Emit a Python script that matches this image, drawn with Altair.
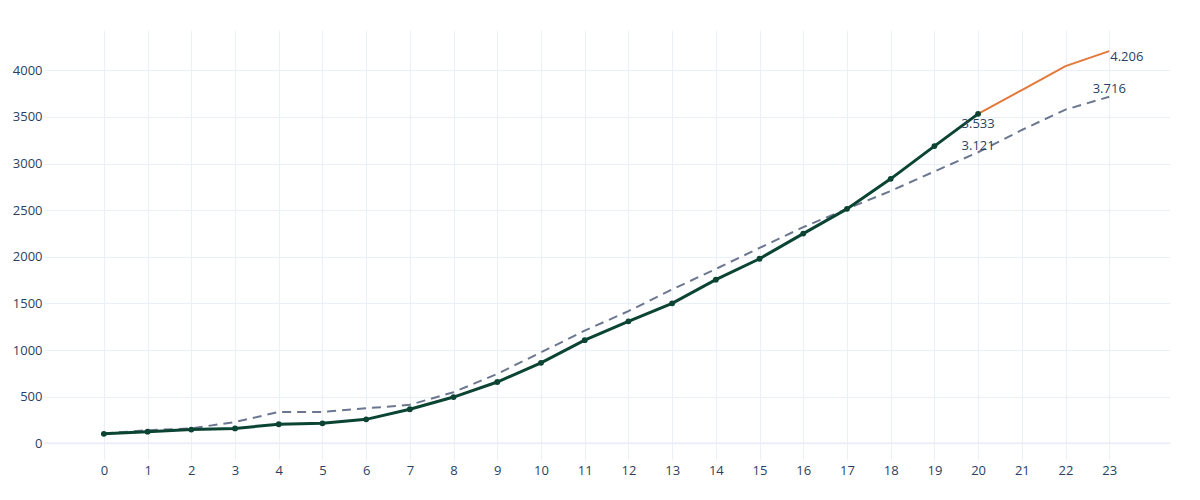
import altair as alt
import pandas as pd

# ---- data ----
x_all = list(range(0, 24))
actual_x = list(range(0, 21))
actual = [102, 125, 147, 160, 204, 214, 257, 365, 496, 657, 863, 1106, 1308,
          1501, 1755, 1979, 2249, 2514, 2836, 3187, 3533]
proj_x = [20, 21, 22, 23]
projection = [3533, 3788, 4045, 4206]
bench = [106, 140, 160, 228, 336, 336, 375, 413, 548, 745, 975, 1208, 1417,
         1650, 1870, 2095, 2318, 2514, 2706, 2915, 3121, 3360, 3578, 3716]

label_x = [20, 20, 23, 23]
label_y = [3533, 3121, 3716, 4206]
label_text = ["3.533", "3.121", "3.716", "4.206"]

x_ticks = list(range(0, 24))
y_ticks = [0, 500, 1000, 1500, 2000, 2500, 3000, 3500, 4000]

GREEN = "#0b4433"
ORANGE = "#e4783a"
SLATE = "#6b7790"
GRID = "#EBF0F8"
FONT_COLOR = "#2a3f5f"
FONT = "Open Sans"

df_actual = pd.DataFrame({"x": actual_x, "y": actual})
df_proj = pd.DataFrame({"x": proj_x, "y": projection})
df_bench = pd.DataFrame({"x": x_all, "y": bench})
df_lab = pd.DataFrame({"x": label_x, "y": label_y, "t": label_text})
df_zero = pd.DataFrame({"y": [0]})

xs = alt.Scale(domain=[-1.37, 24.39], nice=False, zero=False)
ys = alt.Scale(domain=[-179, 4432], nice=False, zero=False)

x_axis = alt.Axis(values=x_ticks, title=None, domain=False, ticks=False,
                  grid=True, gridColor=GRID, gridWidth=1, labelPadding=4,
                  format="d",
                  labelFont=FONT, labelFontSize=13, labelColor=FONT_COLOR)
y_axis = alt.Axis(values=y_ticks, title=None, domain=False, ticks=False,
                  grid=True, gridColor=GRID, gridWidth=1, labelPadding=2,
                  format="d",
                  labelFont=FONT, labelFontSize=13, labelColor=FONT_COLOR)

X = alt.X("x:Q", scale=xs, axis=x_axis)
Y = alt.Y("y:Q", scale=ys, axis=y_axis)

zero = alt.Chart(df_zero).mark_rule(color=GRID, strokeWidth=2).encode(
    y=alt.Y("y:Q", scale=ys)
)

bench_line = alt.Chart(df_bench).mark_line(
    color=SLATE, strokeWidth=2, strokeDash=[9, 6]
).encode(x=X, y=Y)

proj_line = alt.Chart(df_proj).mark_line(color=ORANGE, strokeWidth=2).encode(
    x=alt.X("x:Q", scale=xs), y=alt.Y("y:Q", scale=ys)
)

actual_line = alt.Chart(df_actual).mark_line(
    color=GREEN, strokeWidth=3,
    point=alt.OverlayMarkDef(color=GREEN, size=34, filled=True, opacity=1)
).encode(x=alt.X("x:Q", scale=xs), y=alt.Y("y:Q", scale=ys))


def lab(i, align, dx, dy):
    d = df_lab.iloc[[i]]
    return alt.Chart(d).mark_text(
        align=align, baseline="alphabetic", dx=dx, dy=dy,
        font=FONT, fontSize=13, color=FONT_COLOR
    ).encode(x=alt.X("x:Q", scale=xs), y=alt.Y("y:Q", scale=ys), text="t:N")


labels = [
    lab(0, "center", 0, 14),
    lab(1, "center", 0, -2),
    lab(2, "center", 0, -4),
    lab(3, "left", 1, 10),
]

chart = alt.layer(zero, bench_line, proj_line, actual_line, *labels).properties(
    width=1126, height=430,
    autosize=alt.AutoSizeParams(type="none"),
    padding={"left": 36, "top": 22, "right": 10, "bottom": 40},
).configure(background="white").configure_view(stroke=None, strokeWidth=0)

chart.save("out.html", embed_options={"renderer": "svg", "actions": False})
